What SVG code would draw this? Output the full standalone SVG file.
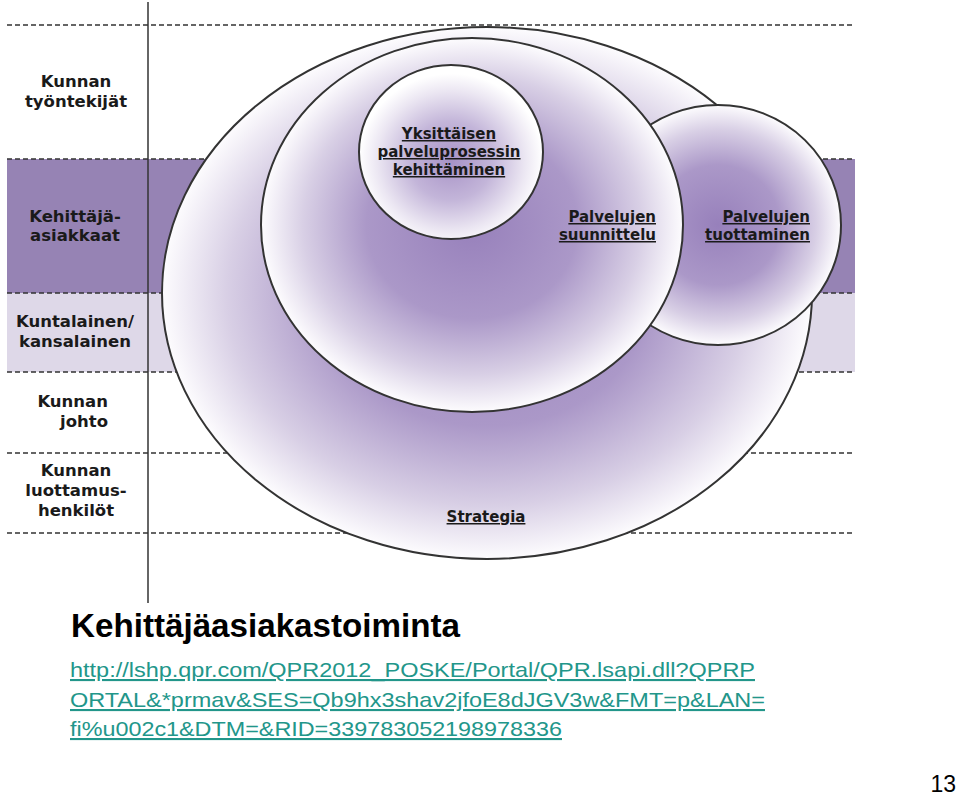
<svg xmlns="http://www.w3.org/2000/svg" width="960" height="798" viewBox="0 0 960 798">
<defs>
<radialGradient id="g" cx="50%" cy="50%" r="50%">
<stop offset="0" stop-color="#9780bb"/>
<stop offset="0.5" stop-color="#ab98c8"/>
<stop offset="0.8" stop-color="#d8cfe5"/>
<stop offset="1" stop-color="#fdfcfe"/>
</radialGradient>
<radialGradient id="gs" cx="50%" cy="55%" r="50%">
<stop offset="0" stop-color="#a792c6"/>
<stop offset="0.45" stop-color="#c3b5d9"/>
<stop offset="0.8" stop-color="#ebe6f2"/>
<stop offset="1" stop-color="#ffffff"/>
</radialGradient>
</defs>
<style>
.dash{stroke:#333;stroke-width:1.5;stroke-dasharray:5,3;fill:none}
.ell{fill:url(#g);stroke:#333;stroke-width:2}
.lab{font-family:"DejaVu Sans",Verdana,sans-serif;font-weight:bold;font-size:16.5px;fill:#1a1a1a;text-anchor:middle}
.in{font-family:"DejaVu Sans",Verdana,sans-serif;font-weight:bold;font-size:15px;fill:#1a1a1a;text-decoration:underline}
.url{font-family:"Liberation Sans",Arial,sans-serif;font-size:21px;fill:#22968a;text-decoration:underline}
</style>
<rect width="960" height="798" fill="#ffffff"/>
<g id="bands">
<rect x="7" y="159" width="848" height="134" fill="#9683b4"/>
<rect x="7" y="293" width="848" height="79" fill="#ded8e8"/>
</g>
<g id="lines">
<line class="dash" x1="7" y1="25" x2="852" y2="25"/>
<line class="dash" x1="7" y1="159" x2="855" y2="159"/>
<line class="dash" x1="7" y1="293" x2="855" y2="293"/>
<line class="dash" x1="7" y1="372" x2="852" y2="372"/>
<line class="dash" x1="7" y1="453" x2="852" y2="453"/>
<line class="dash" x1="7" y1="533" x2="852" y2="533"/>
<line x1="148" y1="2" x2="148" y2="603" stroke="#333" stroke-width="1.5"/>
</g>
<g id="strategia">
<ellipse class="ell" cx="487" cy="293" rx="325" ry="266"/>
<text class="in" x="486" y="522" text-anchor="middle">Strategia</text>
</g>
<g id="tuottaminen">
<ellipse class="ell" cx="718" cy="225" rx="123" ry="120"/>
<text class="in" x="810" y="222" text-anchor="end">Palvelujen</text>
<text class="in" x="810" y="240" text-anchor="end">tuottaminen</text>
</g>
<g id="suunnittelu">
<ellipse class="ell" cx="472" cy="225" rx="211" ry="187"/>
<text class="in" x="656" y="222" text-anchor="end">Palvelujen</text>
<text class="in" x="656" y="240" text-anchor="end">suunnittelu</text>
</g>
<g id="yksittaisen">
<ellipse cx="451" cy="152" rx="92" ry="87" fill="url(#gs)" stroke="#333" stroke-width="2"/>
<text class="in" x="449" y="139" text-anchor="middle">Yksittäisen</text>
<text class="in" x="449" y="157" text-anchor="middle">palveluprosessin</text>
<text class="in" x="449" y="175" text-anchor="middle">kehittäminen</text>
</g>
<g id="left-labels">
<text class="lab" x="76" y="87">Kunnan</text>
<text class="lab" x="76" y="107">työntekijät</text>
<text class="lab" x="75" y="222">Kehittäjä-</text>
<text class="lab" x="75" y="241">asiakkaat</text>
<text class="lab" x="75" y="327">Kuntalainen/</text>
<text class="lab" x="75" y="347">kansalainen</text>
<text class="lab" x="108" y="407" style="text-anchor:end">Kunnan</text>
<text class="lab" x="108" y="427" style="text-anchor:end">johto</text>
<text class="lab" x="76" y="476">Kunnan</text>
<text class="lab" x="76" y="496">luottamus-</text>
<text class="lab" x="76" y="516">henkilöt</text>
</g>
<g id="caption">
<text x="71" y="637" font-family="Liberation Sans, Arial, sans-serif" font-weight="bold" font-size="33" fill="#000" textLength="389" lengthAdjust="spacingAndGlyphs">Kehittäjäasiakastoiminta</text>
<text class="url" x="70" y="677" textLength="685" lengthAdjust="spacingAndGlyphs">http://lshp.qpr.com/QPR2012_POSKE/Portal/QPR.lsapi.dll?QPRP</text>
<text class="url" x="70" y="707" textLength="695" lengthAdjust="spacingAndGlyphs">ORTAL&amp;*prmav&amp;SES=Qb9hx3shav2jfoE8dJGV3w&amp;FMT=p&amp;LAN=</text>
<text class="url" x="70" y="736" textLength="492" lengthAdjust="spacingAndGlyphs">fi%u002c1&amp;DTM=&amp;RID=339783052198978336</text>
<text x="956" y="792" font-family="Liberation Sans, Arial, sans-serif" font-size="23" fill="#000" text-anchor="end">13</text>
</g>
</svg>
